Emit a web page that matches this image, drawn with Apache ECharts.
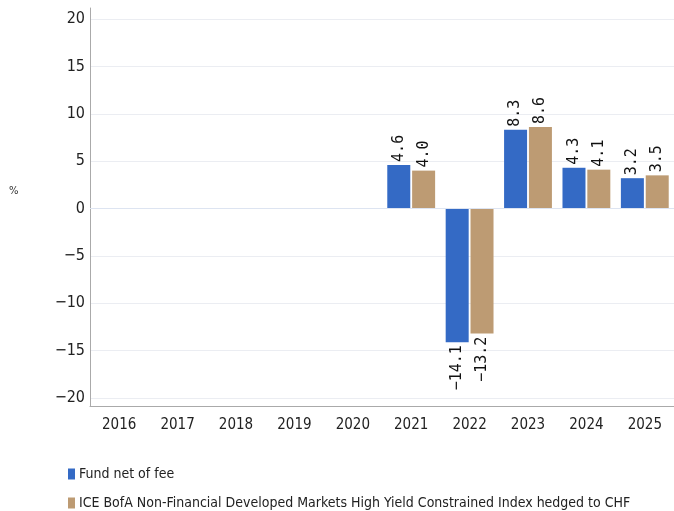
<!DOCTYPE html>
<html>
<head>
<meta charset="utf-8">
<script src="https://cdn.jsdelivr.net/npm/echarts@6/dist/echarts.min.js"></script>
</head>
<body style="margin:0">
<div id="main" style="width:674px;height:511px;"></div>
<script type="text/javascript">
// data
var years = ['2016', '2017', '2018', '2019', '2020', '2021', '2022', '2023', '2024', '2025'];
var fundNet = [null, null, null, null, null, 4.6, -14.1, 8.3, 4.3, 3.2];
var benchmark = [null, null, null, null, null, 4.0, -13.2, 8.6, 4.1, 3.5];
var seriesNames = ['Fund net of fee', 'ICE BofA Non-Financial Developed Markets High Yield Constrained Index hedged to CHF'];

var axisFont = 'DejaVu Sans Condensed';

function minus(s) {
    return String(s).replace('-', '\u2212');
}

function barLabel() {
    return {
        show: true,
        position: 'top',
        rotate: 90,
        align: 'left',
        verticalAlign: 'middle',
        distance: 3,
        fontFamily: 'DejaVu Sans Mono',
        fontSize: 15,
        color: '#111',
        formatter: function (p) {
            return minus(p.value.toFixed(1));
        }
    };
}

function makeData(arr) {
    return arr.map(function (v) {
        if (v === null) return null;
        if (v < 0) {
            return {
                value: v,
                label: { position: 'bottom', align: 'right' }
            };
        }
        return v;
    });
}

function legendItem(name, top) {
    return {
        left: 63,
        top: top,
        itemWidth: 7,
        itemHeight: 11,
        icon: 'rect',
        textStyle: { fontFamily: axisFont, fontSize: 14, color: '#222', padding: [0, 0, 0, -1] },
        data: [name]
    };
}

var myChart = echarts.init(document.getElementById('main'));

var option = {
    animation: false,
    title: {
        text: '%',
        left: 4,
        top: 181,
        textStyle: { fontSize: 10, fontWeight: 'normal', color: '#333', fontFamily: 'DejaVu Sans' }
    },
    legend: [legendItem(seriesNames[0], 462), legendItem(seriesNames[1], 491)],
    grid: {
        left: 90,
        right: -8,
        top: 8,
        bottom: 105
    },
    xAxis: {
        type: 'category',
        data: years,
        axisTick: { show: false },
        axisLine: { onZero: false, lineStyle: { color: '#aaa' } },
        axisLabel: { fontFamily: axisFont, fontSize: 15, color: '#222', margin: 12 }
    },
    yAxis: {
        type: 'value',
        min: -20.84,
        max: 21.16,
        splitNumber: 8,
        axisLine: { show: true, lineStyle: { color: '#aaa' } },
        axisTick: { show: false },
        axisLabel: {
            fontFamily: axisFont, fontSize: 16, color: '#222', margin: 5,
            showMinLabel: false, showMaxLabel: false,
            formatter: function (v) { return minus(v); }
        },
        splitLine: {
            showMinLine: false,
            showMaxLine: false,
            lineStyle: { color: '#ebedf2' }
        }
    },
    series: [{
        name: seriesNames[0],
        type: 'bar',
        data: makeData(fundNet),
        barWidth: 23,
        barGap: '8%',
        itemStyle: { color: '#346AC5' },
        label: barLabel(),
        markLine: {
            silent: true,
            symbol: 'none',
            label: { show: false },
            lineStyle: { color: '#dde4f1', type: 'solid', width: 1 },
            data: [{ yAxis: 0 }]
        }
    }, {
        name: seriesNames[1],
        type: 'bar',
        data: makeData(benchmark),
        barWidth: 23,
        barGap: '8%',
        itemStyle: { color: '#BD9B73' },
        label: barLabel()
    }]
};

myChart.setOption(option);
</script>
</body>
</html>
